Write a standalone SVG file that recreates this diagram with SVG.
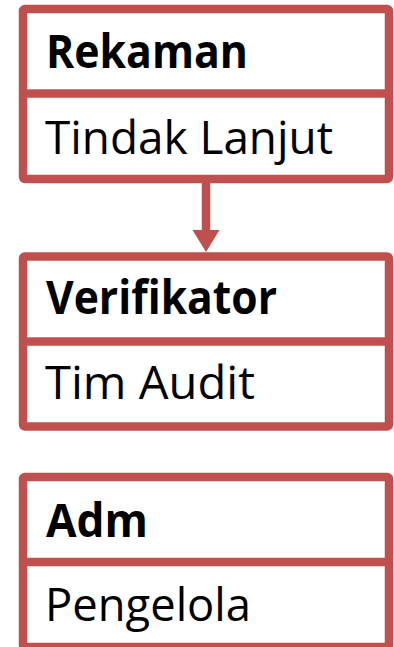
<svg xmlns="http://www.w3.org/2000/svg" width="394" height="647" viewBox="0 0 394 647">
  <style>
    .box { fill: #ffffff; stroke: #C0504D; stroke-width: 8.5; }
    .div { stroke: #C0504D; stroke-width: 8.5; }
    .title { font-family: "Open Sans", "Noto Sans", sans-serif; font-weight: bold; font-size: 46px; fill: #000000; }
    .body { font-family: "Open Sans", "Noto Sans", sans-serif; font-size: 46px; fill: #000000; }
    .link { stroke: #C0504D; stroke-width: 8.5; fill: none; }
    .head { fill: #C0504D; }
  </style>
  <rect width="394" height="647" fill="#ffffff"/>

  <g id="connectors">
    <line class="link" x1="206" y1="179" x2="206" y2="231"/>
    <polygon class="head" points="192.5,230 219.5,230 206,252"/>
  </g>

  <g id="rekaman">
    <rect class="box" x="23" y="9" width="366" height="170" rx="2"/>
    <line class="div" x1="23" y1="93.5" x2="389" y2="93.5"/>
    <text class="title" x="46" y="68" textLength="202" lengthAdjust="spacingAndGlyphs">Rekaman</text>
    <text class="body" x="45" y="154" textLength="288" lengthAdjust="spacingAndGlyphs">Tindak Lanjut</text>
  </g>

  <g id="verifikator">
    <rect class="box" x="23" y="256.5" width="366" height="170" rx="2"/>
    <line class="div" x1="23" y1="341.5" x2="389" y2="341.5"/>
    <text class="title" x="46" y="314" textLength="231" lengthAdjust="spacingAndGlyphs">Verifikator</text>
    <text class="body" x="45" y="399" textLength="210" lengthAdjust="spacingAndGlyphs">Tim Audit</text>
  </g>

  <g id="adm">
    <rect class="box" x="23" y="477" width="366" height="170" rx="2"/>
    <line class="div" x1="23" y1="562" x2="389" y2="562"/>
    <text class="title" x="46" y="537" textLength="102" lengthAdjust="spacingAndGlyphs">Adm</text>
    <text class="body" x="45" y="621" textLength="206" lengthAdjust="spacingAndGlyphs">Pengelola</text>
  </g>
</svg>
